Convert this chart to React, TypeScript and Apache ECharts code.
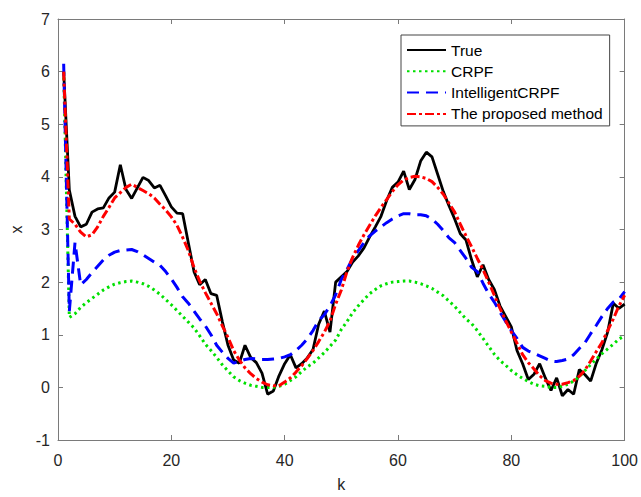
import React, { useEffect, useRef } from 'react';
import * as echarts from 'echarts';

const kValues: number[] = Array.from({ length: 100 }, (_, i) => i + 1);

const trueValues: number[] = [
  6.0, 3.75, 3.25, 3.05, 3.1, 3.33, 3.39, 3.41, 3.6, 3.71,
  4.23, 3.76, 3.59, 3.79, 3.99, 3.93, 3.79, 3.84, 3.64, 3.43,
  3.31, 3.3, 2.75, 2.2, 1.95, 2.05, 1.78, 1.75, 1.25, 0.8,
  0.52, 0.46, 0.8, 0.57, 0.47, 0.27, -0.13, -0.07, 0.22, 0.45,
  0.62, 0.37, 0.45, 0.56, 0.72, 1.2, 1.45, 1.05, 2.0, 2.1,
  2.2, 2.38, 2.5, 2.65, 2.86, 3.05, 3.25, 3.55, 3.8, 3.9,
  4.11, 3.76, 3.95, 4.3, 4.47, 4.38, 4.05, 3.72, 3.45, 3.2,
  2.92, 2.8, 2.42, 2.1, 2.33, 2.05, 1.86, 1.55, 1.35, 1.15,
  0.7, 0.45, 0.15, 0.25, 0.45, 0.18, -0.06, 0.18, -0.16, -0.04,
  -0.13, 0.34, 0.24, 0.12, 0.46, 0.72, 1.05, 1.6, 1.5, 1.58,
];

const crpfValues: number[] = [
  6.0, 1.33, 1.4, 1.52, 1.61, 1.69, 1.77, 1.85, 1.91, 1.96,
  1.99, 2.01, 2.02, 2.0, 1.97, 1.92, 1.85, 1.77, 1.67, 1.57,
  1.46, 1.35, 1.24, 1.13, 0.98, 0.82, 0.7, 0.57, 0.43, 0.31,
  0.2, 0.13, 0.08, 0.04, 0.02, 0.0, 0.0, 0.0, 0.02, 0.06,
  0.13, 0.2, 0.3, 0.39, 0.46, 0.56, 0.66, 0.78, 0.9, 1.1,
  1.25, 1.42, 1.55, 1.67, 1.78, 1.86, 1.93, 1.97, 2.0, 2.01,
  2.02, 2.02, 2.0, 1.97, 1.93, 1.88, 1.81, 1.74, 1.64, 1.54,
  1.42, 1.3, 1.21, 1.08, 0.93, 0.78, 0.63, 0.51, 0.42, 0.32,
  0.24, 0.17, 0.11, 0.06, 0.03, 0.02, 0.0, 0.0, 0.02, 0.06,
  0.12, 0.2, 0.32, 0.43, 0.54, 0.64, 0.73, 0.82, 0.92, 0.98,
];

const intelligentValues: number[] = [
  6.15, 1.45, 2.75, 1.95, 2.05, 2.18, 2.3, 2.42, 2.51, 2.57,
  2.6, 2.61, 2.62, 2.58, 2.52, 2.45, 2.38, 2.32, 2.2, 2.06,
  1.9, 1.72, 1.6, 1.45, 1.3, 1.17, 1.0, 0.8, 0.67, 0.55,
  0.46, 0.5, 0.53, 0.55, 0.54, 0.53, 0.53, 0.54, 0.55, 0.58,
  0.62, 0.7, 0.8, 0.92, 1.08, 1.27, 1.38, 1.55, 1.76, 2.05,
  2.24, 2.45, 2.6, 2.75, 2.88, 2.97, 3.05, 3.13, 3.2, 3.26,
  3.3, 3.3, 3.28, 3.28, 3.26, 3.2, 3.1, 2.98, 2.84, 2.75,
  2.6, 2.45, 2.28, 2.2, 1.98, 1.78, 1.62, 1.43, 1.25, 1.08,
  0.93, 0.76, 0.69, 0.65, 0.6, 0.55, 0.5, 0.49, 0.51, 0.54,
  0.62, 0.74, 0.85, 1.02, 1.18, 1.35, 1.5, 1.62, 1.68, 1.82,
];

const proposedValues: number[] = [
  6.0, 3.2, 3.1, 2.95, 2.86, 2.9, 3.05, 3.25, 3.42, 3.6,
  3.7, 3.8, 3.86, 3.8, 3.74, 3.68, 3.6, 3.48, 3.37, 3.24,
  3.08, 2.85, 2.6, 2.28, 2.02, 1.8, 1.6, 1.4, 1.17, 0.95,
  0.7, 0.52, 0.37, 0.26, 0.17, 0.1, 0.05, 0.03, 0.03, 0.1,
  0.18, 0.29, 0.41, 0.55, 0.7, 0.87, 1.05, 1.26, 1.58, 1.85,
  2.2, 2.47, 2.7, 2.9, 3.08, 3.26, 3.42, 3.57, 3.72, 3.85,
  3.94, 3.99, 4.01, 4.0, 3.97, 3.91, 3.8, 3.67, 3.5, 3.33,
  3.1, 2.88, 2.67, 2.45, 2.24, 2.0, 1.75, 1.5, 1.27, 1.05,
  0.84, 0.62, 0.47, 0.35, 0.22, 0.13, 0.08, 0.06, 0.06, 0.09,
  0.13, 0.21, 0.33, 0.5, 0.68, 0.85, 1.08, 1.3, 1.55, 1.75,
];

const seriesNames: string[] = ['True', 'CRPF', 'IntelligentCRPF', 'The proposed method'];

const FONT = '"Liberation Sans", Arial, Helvetica, sans-serif';
const AXIS_COLOR = '#7a7a7a';
const LABEL_COLOR = '#262626';

export default function App() {
  const ref = useRef<HTMLDivElement>(null);

  useEffect(() => {
    if (!ref.current) return;
    const chart = echarts.init(ref.current, null, { renderer: 'svg' });
    const pair = (vals: number[]) => kValues.map((k, i) => [k, vals[i]]);

    const axisCommon = {
      axisLine: { show: true, onZero: false, lineStyle: { color: AXIS_COLOR, width: 1 } },
      axisTick: { show: true, inside: true, length: 5, lineStyle: { color: AXIS_COLOR, width: 1 } },
      splitLine: { show: false },
    };

    chart.setOption({
      animation: false,
      backgroundColor: '#ffffff',
      textStyle: { fontFamily: FONT },
      grid: { left: 57, top: 19, right: 14, bottom: 50, containLabel: false },
      legend: {
        orient: 'vertical',
        left: 401,
        top: 35,
        itemWidth: 39,
        itemHeight: 14,
        itemGap: 5.3,
        padding: [7, 7, 4, 5],
        borderColor: '#444',
        borderWidth: 1,
        backgroundColor: '#ffffff',
        itemStyle: { opacity: 0 },
        textStyle: { fontSize: 15.5, color: '#000', fontFamily: FONT, lineHeight: 14 },
        data: seriesNames,
      },
      xAxis: [
        {
          type: 'value', min: 0, max: 100, interval: 20, position: 'bottom',
          name: 'k', nameLocation: 'middle', nameGap: 36,
          nameTextStyle: { fontSize: 16, color: LABEL_COLOR, fontFamily: FONT },
          axisLabel: { margin: 12, fontSize: 16, color: LABEL_COLOR, fontFamily: FONT },
          ...axisCommon,
        },
        {
          type: 'value', min: 0, max: 100, interval: 20, position: 'top',
          axisLabel: { show: false },
          ...axisCommon,
        },
      ],
      yAxis: [
        {
          type: 'value', min: -1, max: 7, interval: 1, position: 'left',
          name: 'x', nameLocation: 'middle', nameGap: 34,
          nameTextStyle: { fontSize: 16, color: LABEL_COLOR, fontFamily: FONT },
          axisLabel: { margin: 8, fontSize: 16, color: LABEL_COLOR, fontFamily: FONT },
          ...axisCommon,
        },
        {
          type: 'value', min: -1, max: 7, interval: 1, position: 'right',
          axisLabel: { show: false },
          ...axisCommon,
        },
      ],
      series: [
        {
          name: seriesNames[0], type: 'line', data: pair(trueValues), symbol: 'none',
          lineStyle: { color: '#000000', width: 2.8, type: 'solid' }, itemStyle: { color: '#000000' },
          z: 2,
        },
        {
          name: seriesNames[1], type: 'line', data: pair(crpfValues), symbol: 'none',
          lineStyle: { color: '#00e000', width: 3, type: [2.5, 3.5] }, itemStyle: { color: '#00e000' },
          z: 3,
        },
        {
          name: seriesNames[2], type: 'line', data: pair(intelligentValues), symbol: 'none',
          lineStyle: { color: '#0000ff', width: 3, type: [12, 7] }, itemStyle: { color: '#0000ff' },
          z: 4,
        },
        {
          name: seriesNames[3], type: 'line', data: pair(proposedValues), symbol: 'none',
          lineStyle: { color: '#ff0000', width: 3, type: [9, 3, 3, 3] }, itemStyle: { color: '#ff0000' },
          z: 5,
        },
      ],
    });

    return () => chart.dispose();
  }, []);

  return (
    <div
      ref={ref}
      style={{ position: 'fixed', left: 0, top: 0, width: 641, height: 497, background: '#fff' }}
    />
  );
}
